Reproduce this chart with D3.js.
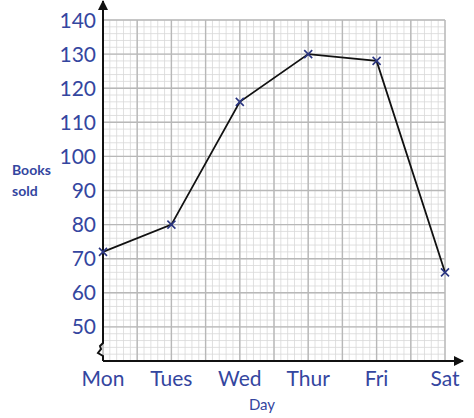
<!DOCTYPE html>
<html>
<head>
<meta charset="utf-8">
<script src="https://cdn.jsdelivr.net/npm/d3@7"></script>
<style>
  body { margin: 0; background: #fff; }
  text { font-family: "Comic Sans MS", "Lato", "DejaVu Sans", sans-serif; }
</style>
</head>
<body>
<div id="chart"></div>
<script>
(function () {
    // Chart data
    const days = ["Mon", "Tues", "Wed", "Thur", "Fri", "Sat"];
    const booksSold = [72, 80, 116, 130, 128, 66];
    const yTicks = [50, 60, 70, 80, 90, 100, 110, 120, 130, 140];

    const width = 474, height = 418;
    const margin = { top: 20, right: 29, bottom: 57, left: 103 };
    const innerW = 445 - margin.left;
    const innerH = 361 - margin.top;
    const blue = "#34469f";

    const svg = d3.select("#chart")
        .append("svg")
        .attr("width", width)
        .attr("height", height);

    const g = svg.append("g")
        .attr("transform", `translate(${margin.left},${margin.top})`);

    // Scales
    const x = d3.scalePoint().domain(days).range([0, innerW]);
    const y = d3.scaleLinear().domain([40, 140]).range([innerH, 0]);
    // grid uses a half-day step along x
    const xGrid = d3.scaleLinear().domain([0, 10]).range([0, innerW]);

    // Minor grid lines (5 per major square)
    const minorX = d3.range(0, 10.001, 0.2);
    const minorY = d3.range(40, 140.001, 2);
    g.append("g").selectAll("line")
        .data(minorX)
        .enter().append("line")
        .attr("x1", d => xGrid(d)).attr("x2", d => xGrid(d))
        .attr("y1", 0).attr("y2", innerH)
        .attr("stroke", "#d8d8d8").attr("stroke-width", 0.8);
    g.append("g").selectAll("line")
        .data(minorY)
        .enter().append("line")
        .attr("x1", 0).attr("x2", innerW)
        .attr("y1", d => y(d)).attr("y2", d => y(d))
        .attr("stroke", "#d8d8d8").attr("stroke-width", 0.8);

    // Major grid lines
    g.append("g").selectAll("line")
        .data(d3.range(0, 11))
        .enter().append("line")
        .attr("x1", d => xGrid(d)).attr("x2", d => xGrid(d))
        .attr("y1", 0).attr("y2", innerH)
        .attr("stroke", "#b8b8b8").attr("stroke-width", 1.4);
    g.append("g").selectAll("line")
        .data(d3.range(40, 141, 10))
        .enter().append("line")
        .attr("x1", 0).attr("x2", innerW)
        .attr("y1", d => y(d)).attr("y2", d => y(d))
        .attr("stroke", "#b8b8b8").attr("stroke-width", 1.4);

    // Axes: y axis with break and arrow, x axis with arrow
    svg.append("defs").append("marker")
        .attr("id", "arrow")
        .attr("viewBox", "0 0 10 10")
        .attr("refX", 9).attr("refY", 5)
        .attr("markerWidth", 5).attr("markerHeight", 5)
        .attr("orient", "auto")
        .append("path")
        .attr("d", "M0,0 L10,5 L0,10 Z")
        .attr("fill", "#111");

    g.append("path")
        .attr("d", `M0,${innerH} L0,${innerH - 5} L-5,${innerH - 8} L-2,${innerH - 12} L-3,${innerH - 15} L0,${innerH - 18} L0,-19`)
        .attr("fill", "none")
        .attr("stroke", "#111")
        .attr("stroke-width", 2)
        .attr("marker-end", "url(#arrow)");

    g.append("line")
        .attr("x1", 0).attr("x2", innerW + 18)
        .attr("y1", innerH).attr("y2", innerH)
        .attr("stroke", "#111")
        .attr("stroke-width", 2)
        .attr("marker-end", "url(#arrow)");

    // Y tick labels
    g.selectAll(".ylab")
        .data(yTicks)
        .enter().append("text")
        .attr("class", "ylab")
        .attr("x", -7)
        .attr("y", d => y(d))
        .attr("dy", "0.36em")
        .attr("text-anchor", "end")
        .attr("fill", blue)
        .attr("font-size", 21)
        .text(d => d);

    // X tick labels
    g.selectAll(".xlab")
        .data(days)
        .enter().append("text")
        .attr("class", "xlab")
        .attr("x", d => x(d))
        .attr("y", innerH + 25)
        .attr("text-anchor", "middle")
        .attr("fill", blue)
        .attr("font-size", 21)
        .text(d => d);

    // Axis titles
    svg.append("text")
        .attr("x", 262).attr("y", 410)
        .attr("text-anchor", "middle")
        .attr("fill", blue)
        .attr("font-size", 15)
        .text("Day");

    const yt = svg.append("text")
        .attr("fill", blue)
        .attr("font-size", 14)
        .attr("font-weight", "bold");
    yt.append("tspan").attr("x", 12).attr("y", 175).text("Books");
    yt.append("tspan").attr("x", 12).attr("y", 196).text("sold");

    // Line
    const line = d3.line()
        .x((d, i) => x(days[i]))
        .y(d => y(d));

    g.append("path")
        .datum(booksSold)
        .attr("d", line)
        .attr("fill", "none")
        .attr("stroke", "#111")
        .attr("stroke-width", 1.8);

    // Cross markers
    g.selectAll(".pt")
        .data(booksSold)
        .enter().append("path")
        .attr("class", "pt")
        .attr("transform", (d, i) => `translate(${x(days[i])},${y(d)})`)
        .attr("d", "M-4,-4L4,4M-4,4L4,-4")
        .attr("stroke", "#2a3580")
        .attr("stroke-width", 1.6);
})();
</script>
</body>
</html>
